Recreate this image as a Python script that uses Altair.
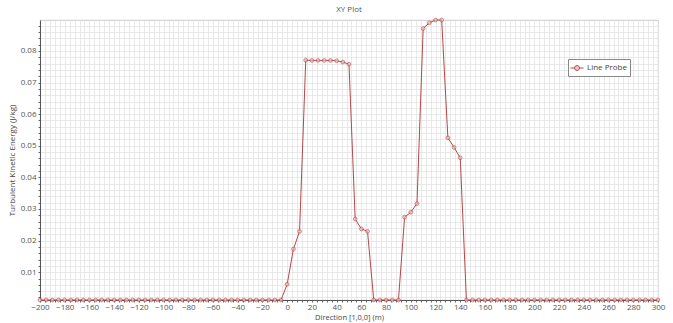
import altair as alt
import pandas as pd
import numpy as np

# Probe positions along the line (m) and turbulent kinetic energy (J/kg)
BASE = 0.0012
x_left = list(range(-200, -4, 5))  # -200 .. -5
k_left = [BASE] * len(x_left)

x_mid = [0, 5, 10, 15, 20, 25, 30, 35, 40, 45, 50, 55, 60, 65,
         70, 75, 80, 85, 90, 95, 100, 105, 110, 115, 120, 125,
         130, 135, 140]
k_mid = [0.0062, 0.0173, 0.0229, 0.0771, 0.0770, 0.0770, 0.0770, 0.0770,
         0.0769, 0.0765, 0.0758, 0.0268, 0.0237, 0.0229,
         BASE, BASE, BASE, BASE, BASE, 0.0274, 0.0290, 0.0317,
         0.0871, 0.0889, 0.0898, 0.0898, 0.0525, 0.0495, 0.0462]

x_right = list(range(145, 301, 5))
k_right = [BASE] * len(x_right)

positions = x_left + x_mid + x_right
tke = k_left + k_mid + k_right

df = pd.DataFrame({"x": positions, "k": tke, "series": "Line Probe"})

X_DOMAIN = [-200, 300]
Y_DOMAIN = [BASE, 0.0898]
x_ticks = [int(v) for v in np.arange(-200, 301, 4)]
y_ticks = [round(float(v), 4) for v in np.arange(0.002, 0.0899, 0.002)]

FONT = "Open Sans"
LINE_RED = "#b5484a"

common_axis = dict(
    grid=True,
    gridColor="#e3e3e3",
    gridWidth=0.8,
    tickColor="#666",
    tickSize=2,
    domainColor="#555",
    labelColor="#555",
    labelFontSize=8,
    titleColor="#444",
    titleFontWeight="normal",
    labelOverlap=False,
    labelFlush=False,
    tickCount=500,
)

x_enc = alt.X(
    "x:Q",
    scale=alt.Scale(domain=X_DOMAIN, nice=False, zero=False),
    axis=alt.Axis(
        title="Direction [1,0,0] (m)",
        values=x_ticks,
        labelExpr="datum.value % 20 == 0 ? format(datum.value, 'd') : ''",
        labelPadding=1,
        titlePadding=2,
        titleFontSize=7.5,
        **common_axis,
    ),
)
y_enc = alt.Y(
    "k:Q",
    scale=alt.Scale(domain=Y_DOMAIN, nice=False, zero=False),
    axis=alt.Axis(
        title="Turbulent Kinetic Energy (J/kg)",
        values=y_ticks,
        labelExpr="abs(datum.value * 100 - round(datum.value * 100)) < 0.001 ? format(datum.value, '.2f') : ''",
        labelPadding=2,
        titlePadding=4,
        titleFontSize=8,
        **common_axis,
    ),
)

color_enc = alt.Color(
    "series:N",
    scale=alt.Scale(range=[LINE_RED]),
    legend=alt.Legend(
        title=None,
        orient="none",
        legendX=528,
        legendY=39,
        strokeColor="#888",
        fillColor="white",
        padding=3,
        labelFontSize=8,
        labelColor="#444",
        symbolType="M-1.2,0L-0.45,0M0.45,0L1.2,0M-0.45,0A0.45,0.45,0,1,1,0.45,0A0.45,0.45,0,1,1,-0.45,0",
        symbolSize=120,
        symbolStrokeWidth=1,
        symbolFillColor="#f3c4c4",
        symbolStrokeColor=LINE_RED,
    ),
)

line = alt.Chart(df).mark_line(strokeWidth=1, color=LINE_RED).encode(
    x=x_enc, y=y_enc, color=color_enc
)
points = alt.Chart(df).mark_point(
    shape="circle", size=14, filled=True, fill="#f2c0c0", stroke=LINE_RED, strokeWidth=0.9
).encode(x="x:Q", y="k:Q")

chart = (
    alt.layer(line, points)
    .properties(
        width=618,
        height=280,
        title=alt.TitleParams("XY Plot", fontSize=8, color="#555", font=FONT,
                              fontWeight="normal", anchor="middle", offset=2),
        autosize=alt.AutoSizeParams(type="none"),
        padding={"left": 40, "top": 20, "right": 15, "bottom": 23},
    )
    .configure(font=FONT, background="white")
    .configure_view(stroke="#bbb", strokeWidth=0.8)
)

chart.save("out.html", embed_options={"renderer": "svg", "actions": False})
